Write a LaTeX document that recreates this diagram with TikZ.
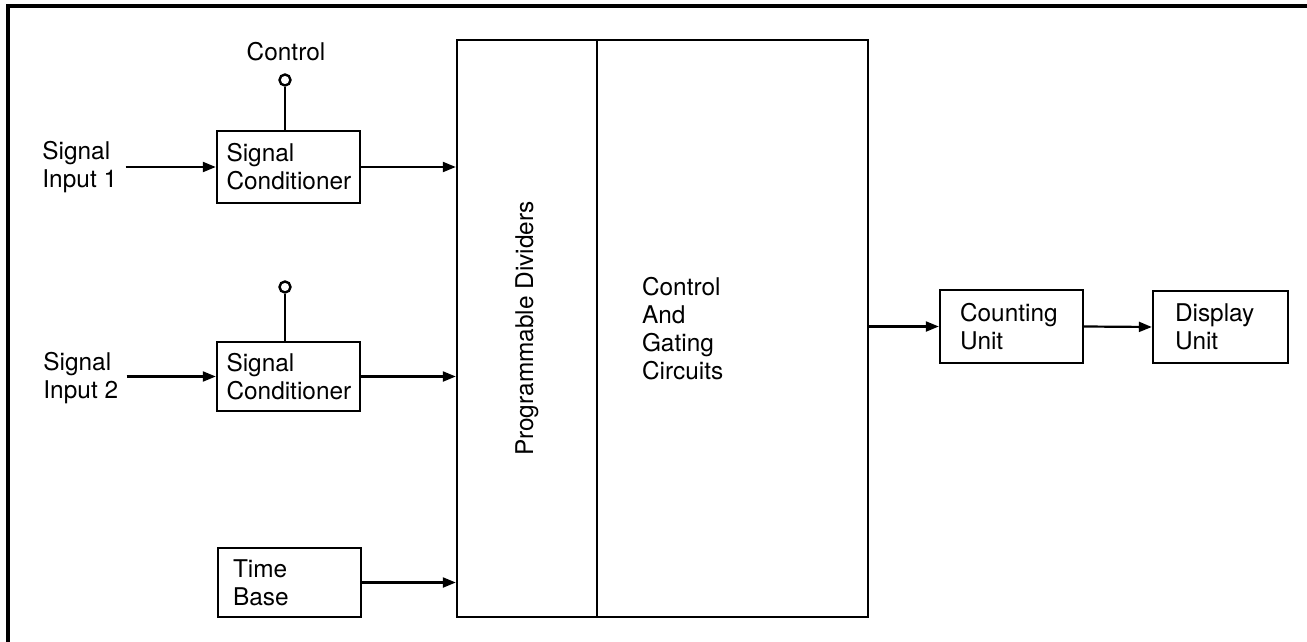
\documentclass[tikz,border=0pt]{standalone}
\usepackage{fontspec}
\setmainfont{TeX Gyre Heros}
\usetikzlibrary{arrows.meta}
\begin{document}
\begin{tikzpicture}[x=0.5pt,y=-0.5pt,
  every node/.style={font=\fontsize{12.2}{14}\selectfont},
  blk/.style={draw, line width=1.2pt, align=left, inner ysep=0pt},
  lbl/.style={inner sep=0pt, align=left},
  arr/.style={line width=1.1pt, -{Triangle[length=6.5pt,width=5pt]}},
  wire/.style={line width=1.2pt},
  term/.style={draw, circle, line width=1.2pt, minimum size=5.5pt, inner sep=0pt},
  frame/.style={line width=1.75pt}]
\fill[white] (0,0) rectangle (1307,642);
\useasboundingbox (0,0) rectangle (1307,642);
% frame (top and left edges)
\coordinate (ftl) at (8,6);
\coordinate (ftr) at (1307,6);
\coordinate (fbl) at (8,642);
\draw[frame] (ftr) -- (ftl) -- (fbl);
% main blocks
\node[draw, line width=1.2pt, rotate=90, minimum width=288.5pt, minimum height=70pt, inner sep=0pt] (pd) at (527,328.5) {Programmable Dividers};
\node[blk, text width=90.5pt, inner xsep=22.5pt, minimum height=288.5pt] (cg) at (732.5,328.5) {Control\\And\\Gating\\Circuits};
% signal conditioners
\node[blk, text width=62pt, inner xsep=4.75pt, minimum height=36pt] (sc1) at (288.5,167) {Signal\\Conditioner};
\node[blk, text width=62pt, inner xsep=4.75pt, minimum height=34.5pt] (sc2) at (288.5,376.5) {Signal\\Conditioner};
\node[blk, text width=56.5pt, inner xsep=7.5pt, minimum height=34.5pt] (tb) at (289.5,582.5) {Time\\Base};
\node[blk, text width=51.5pt, inner xsep=10pt, minimum height=36.5pt] (cu) at (1011.5,326.5) {Counting\\Unit};
\node[blk, text width=45.5pt, inner xsep=11pt, minimum height=36pt] (du) at (1220.5,327) {Display\\Unit};
% inputs
\node[lbl, anchor=west] (si1) at (42,167) {Signal\\Input 1};
\node[lbl, anchor=west] (si2) at (43,378) {Signal\\Input 2};
\coordinate (s1) at ([xshift=4pt]si1.east);
\coordinate (s2) at ([xshift=4pt]si2.east);
% control terminals
\node[lbl] (ctl) at (286,52) {Control};
\node[term] (c1) at (285,80) {};
\node[term] (c2) at (285,287) {};
\draw[wire] (c1.south) -- (c1.south |- sc1.north);
\draw[wire] (c2.south) -- (c2.south |- sc2.north);
% connectors
\draw[arr] (s1 |- sc1.west) -- (sc1.west);
\draw[arr] (s2 |- sc2.west) -- (sc2.west);
\draw[arr] (sc1.east) -- (sc1.east -| pd.north);
\draw[arr] (sc2.east) -- (sc2.east -| pd.north);
\draw[arr] (tb.east) -- (tb.east -| pd.north);
\draw[arr] (cg.east |- cu.west) -- (cu.west);
\draw[arr] (cu.east) -- (du.west);
\end{tikzpicture}
\end{document}
